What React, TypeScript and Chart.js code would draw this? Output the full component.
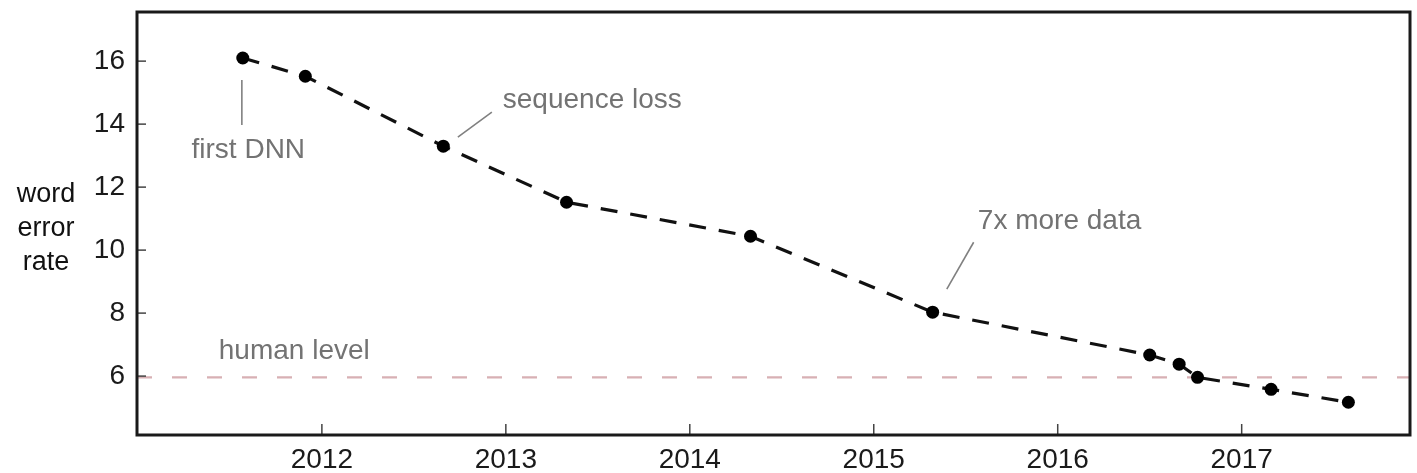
import React, { useEffect, useRef } from "react";
import { Chart, registerables } from "chart.js";

Chart.register(...registerables);

// ---- data ----
const years = [2011.57, 2011.91, 2012.66, 2013.33, 2014.33, 2015.32, 2016.5, 2016.66, 2016.76, 2017.16, 2017.58];
const wordErrorRate = [16.1, 15.52, 13.3, 11.52, 10.44, 8.03, 6.67, 6.38, 5.96, 5.58, 5.17];
const humanLevel = 5.96;
const xTickValues = [2012, 2013, 2014, 2015, 2016, 2017];
const yTickValues = [6, 8, 10, 12, 14, 16];
const xRange = [2010.995, 2017.915];
const yRange = [4.13, 17.56];
const yTitleLines = ["word", "error", "rate"];

// annotations (text anchored in data coordinates, leader lines in data coordinates)
const annotationTexts = ["first DNN", "sequence loss", "7x more data", "human level"];
const annotationTextX = [2011.6, 2013.47, 2016.01, 2011.85];
const annotationTextY = [13.17, 14.76, 10.92, 6.79];
const leaderX1 = [2011.565, 2012.739, 2015.397];
const leaderY1 = [15.4, 13.59, 8.76];
const leaderX2 = [2011.565, 2012.924, 2015.543];
const leaderY2 = [13.97, 14.38, 10.25];

const FONT = "'Liberation Sans', Arial, Helvetica, sans-serif";

const decorPlugin = {
  id: "decor",
  afterDraw(chart: any) {
    const { ctx, chartArea } = chart;
    const xs = chart.scales.x;
    const ys = chart.scales.y;
    ctx.save();

    // inward ticks
    ctx.strokeStyle = "#444";
    ctx.lineWidth = 1.5;
    yTickValues.forEach((v) => {
      const py = ys.getPixelForValue(v);
      ctx.beginPath();
      ctx.moveTo(chartArea.left, py);
      ctx.lineTo(chartArea.left + 9, py);
      ctx.stroke();
    });
    xTickValues.forEach((v) => {
      const px = xs.getPixelForValue(v);
      ctx.beginPath();
      ctx.moveTo(px, chartArea.bottom);
      ctx.lineTo(px, chartArea.bottom - 11);
      ctx.stroke();
    });

    // leader lines
    ctx.strokeStyle = "#808080";
    ctx.lineWidth = 1.6;
    leaderX1.forEach((x1, i) => {
      ctx.beginPath();
      ctx.moveTo(xs.getPixelForValue(x1), ys.getPixelForValue(leaderY1[i]));
      ctx.lineTo(xs.getPixelForValue(leaderX2[i]), ys.getPixelForValue(leaderY2[i]));
      ctx.stroke();
    });

    // annotation texts
    ctx.fillStyle = "#737373";
    ctx.font = `28px ${FONT}`;
    ctx.textAlign = "center";
    ctx.textBaseline = "middle";
    annotationTexts.forEach((t, i) => {
      ctx.fillText(t, xs.getPixelForValue(annotationTextX[i]), ys.getPixelForValue(annotationTextY[i]));
    });

    // y axis title (horizontal, three lines)
    ctx.fillStyle = "#111";
    ctx.font = `27px ${FONT}`;
    ctx.textBaseline = "alphabetic";
    const midY = (ys.getPixelForValue(12) + ys.getPixelForValue(10)) / 2;
    yTitleLines.forEach((t, i) => {
      ctx.fillText(t, 46, midY + 17 + (i - 1) * 34);
    });

    // plot frame
    ctx.strokeStyle = "#1a1a1a";
    ctx.lineWidth = 3;
    ctx.strokeRect(chartArea.left, chartArea.top, chartArea.right - chartArea.left, chartArea.bottom - chartArea.top);
    ctx.restore();
  },
};

export default function App() {
  const canvasRef = useRef<HTMLCanvasElement | null>(null);

  useEffect(() => {
    if (!canvasRef.current) return;
    const chart = new Chart(canvasRef.current, {
      type: "line",
      data: {
        datasets: [
          {
            label: "word error rate",
            data: years.map((x, i) => ({ x, y: wordErrorRate[i] })),
            borderColor: "#111",
            backgroundColor: "#111",
            borderWidth: 3.2,
            borderDash: [17, 13],
            pointRadius: 6.5,
            pointBackgroundColor: "#000",
            pointBorderWidth: 0,
            tension: 0,
          },
          {
            label: "human level",
            data: [
              { x: xRange[0], y: humanLevel },
              { x: xRange[1], y: humanLevel },
            ],
            borderColor: "#d8b0b4",
            borderWidth: 2.2,
            borderDash: [15, 20],
            pointRadius: 0,
          },
        ],
      },
      options: {
        animation: false,
        responsive: true,
        maintainAspectRatio: false,
        layout: { padding: { top: 12, right: 7, left: 0, bottom: 0 } },
        plugins: {
          legend: { display: false },
          tooltip: { enabled: false },
          title: { display: false },
        },
        scales: {
          x: {
            type: "linear",
            min: xRange[0],
            max: xRange[1],
            grid: { display: false, drawTicks: false },
            border: { display: false },
            afterBuildTicks: (s: any) => {
              s.ticks = xTickValues.map((v) => ({ value: v }));
            },
            afterFit: (s: any) => {
              s.height = 38;
              s.paddingLeft = 0;
              s.paddingRight = 0;
            },
            ticks: {
              color: "#1a1a1a",
              font: { size: 28, family: FONT },
              padding: 8,
              maxRotation: 0,
              autoSkip: false,
              callback: (v: any) => String(v),
            },
          },
          y: {
            type: "linear",
            min: yRange[0],
            max: yRange[1],
            grid: { display: false, drawTicks: false },
            border: { display: false },
            afterBuildTicks: (s: any) => {
              s.ticks = yTickValues.map((v) => ({ value: v }));
            },
            afterFit: (s: any) => {
              s.width = 137;
              s.paddingTop = 0;
              s.paddingBottom = 0;
            },
            ticks: {
              color: "#1a1a1a",
              font: { size: 28, family: FONT },
              padding: 12,
              autoSkip: false,
              callback: (v: any) => String(v),
            },
          },
        },
      },
      plugins: [decorPlugin],
    });
    return () => chart.destroy();
  }, []);

  return (
    <div style={{ position: "absolute", left: 0, top: 0, width: 1417, height: 473, background: "#fff" }}>
      <canvas ref={canvasRef} />
    </div>
  );
}
